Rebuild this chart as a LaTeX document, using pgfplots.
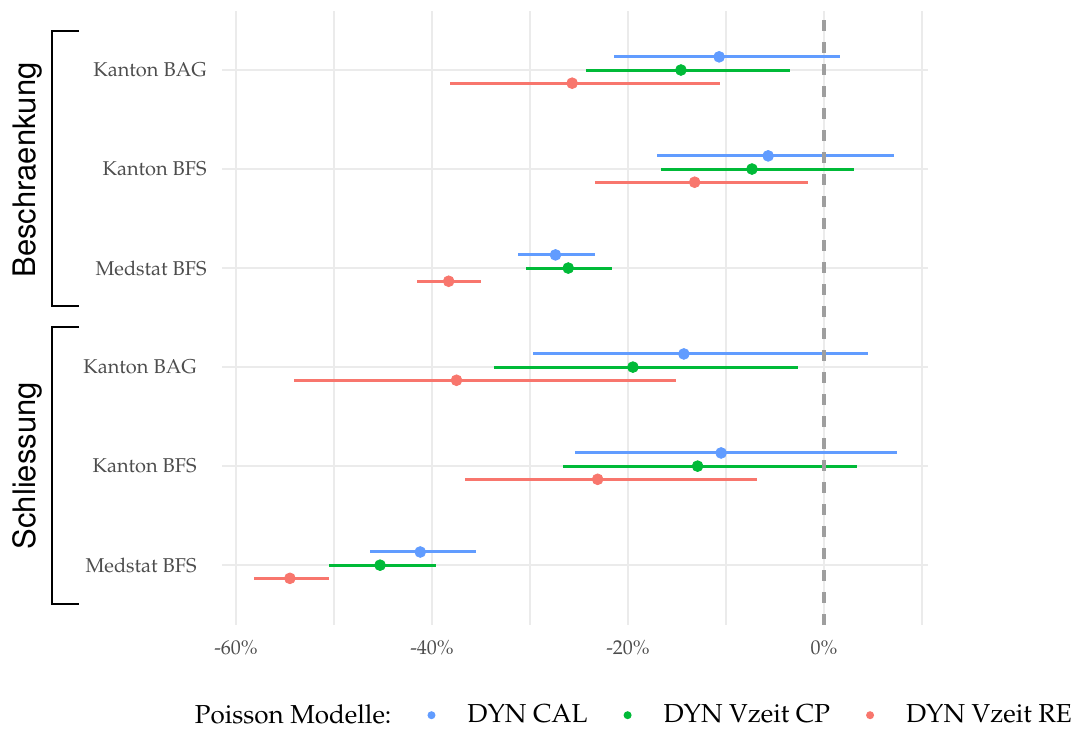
\documentclass[border=0pt]{standalone}
\usepackage[T1]{fontenc}
\usepackage{mathpazo}
\usepackage{helvet}
\usepackage{pgfplots}
\usepackage{pgfplotstable}
\pgfplotsset{compat=1.18}
\definecolor{cal}{HTML}{619CFF}
\definecolor{cp}{HTML}{00BA38}
\definecolor{re}{HTML}{F8766D}
\definecolor{gridgray}{HTML}{EBEBEB}
\definecolor{tickgray}{HTML}{4D4D4D}
\definecolor{dashgray}{HTML}{9E9E9E}

% y: row position (+ dodge), x: estimate, lo/hi: interval
\pgfplotstableread{
y x lo hi
5.133 -10.7 -21.4 1.6
4.133 -5.7 -17.0 7.1
3.133 -27.4 -31.2 -23.4
2.133 -14.3 -29.7 4.5
1.133 -10.5 -25.4 7.4
0.133 -41.2 -46.3 -35.5
}\tcal
\pgfplotstableread{
y x lo hi
5 -14.6 -24.3 -3.5
4 -7.35 -16.6 3.05
3 -26.1 -30.4 -21.6
2 -19.5 -33.7 -2.7
1 -12.9 -26.6 3.4
0 -45.3 -50.5 -39.6
}\tcp
\pgfplotstableread{
y x lo hi
4.867 -25.7 -38.2 -10.6
3.867 -13.2 -23.4 -1.6
2.867 -38.3 -41.5 -35.0
1.867 -37.5 -54.1 -15.1
0.867 -23.1 -36.6 -6.8
-0.133 -54.5 -58.2 -50.5
}\tre

\begin{document}
\begin{tikzpicture}
\begin{axis}[
  scale only axis,
  width=353pt, height=307pt,
  xmin=-61.43, xmax=10.61,
  ymin=-0.6, ymax=5.6,
  clip=false,
  axis line style={draw=none},
  major tick length=0pt, minor tick length=0pt,
  tick style={draw=none},
  xtick={-60,-40,-20,0},
  xticklabels={-60\%,-40\%,-20\%,0\%},
  minor xtick={-50,-30,-10,10},
  ytick={0,1,2},
  yticklabels={Medstat BFS,Kanton BFS,Kanton BAG},
  extra y ticks={3,4,5},
  extra y tick labels={Medstat BFS,Kanton BFS,Kanton BAG},
  extra y tick style={grid=major, yticklabel style={xshift=5pt}},
  grid=both,
  major grid style={color=gridgray, line width=1pt},
  minor grid style={color=gridgray, line width=0.8pt},
  xticklabel style={font=\fontsize{10}{12}\selectfont, text=tickgray, inner sep=0pt, yshift=-8pt},
  yticklabel style={font=\fontsize{10}{12}\selectfont, text=tickgray, inner sep=0pt, xshift=-12.5pt},
  legend columns=4,
  legend style={at={(axis cs:-64.6,-1.515)}, anchor=west, draw=none, inner sep=0pt, outer sep=0pt,
    font=\fontsize{13}{15}\selectfont,
    /tikz/every even column/.append style={column sep=16pt}},
]
\addlegendimage{empty legend}
\addlegendentry{Poisson Modelle:}
\addlegendimage{legend image code/.code={\fill[cal, draw=none] (0pt,0pt) circle (2pt); \path[draw=none] (-2pt,0pt) -- (16pt,0pt);}}
\addlegendentry{DYN CAL}
\addlegendimage{legend image code/.code={\fill[cp, draw=none] (0pt,0pt) circle (2pt); \path[draw=none] (-2pt,0pt) -- (16pt,0pt);}}
\addlegendentry{DYN Vzeit CP}
\addlegendimage{legend image code/.code={\fill[re, draw=none] (0pt,0pt) circle (2pt); \path[draw=none] (-2pt,0pt) -- (16pt,0pt);}}
\addlegendentry{DYN Vzeit RE}

\addplot[forget plot, only marks, mark=*, mark size=2.7pt, color=cal,
  error bars/.cd, x dir=both, x explicit, error mark=none,
  error bar style={line width=1.5pt, line cap=butt, color=cal}]
  table[x=x, y=y, x error plus expr=\thisrow{hi}-\thisrow{x}, x error minus expr=\thisrow{x}-\thisrow{lo}] {\tcal};
\addplot[forget plot, only marks, mark=*, mark size=2.7pt, color=cp,
  error bars/.cd, x dir=both, x explicit, error mark=none,
  error bar style={line width=1.5pt, line cap=butt, color=cp}]
  table[x=x, y=y, x error plus expr=\thisrow{hi}-\thisrow{x}, x error minus expr=\thisrow{x}-\thisrow{lo}] {\tcp};
\addplot[forget plot, only marks, mark=*, mark size=2.7pt, color=re,
  error bars/.cd, x dir=both, x explicit, error mark=none,
  error bar style={line width=1.5pt, line cap=butt, color=re}]
  table[x=x, y=y, x error plus expr=\thisrow{hi}-\thisrow{x}, x error minus expr=\thisrow{x}-\thisrow{lo}] {\tre};

\addplot[forget plot, dashgray, line width=1.6pt, dash pattern=on 5.5pt off 5.5pt] coordinates {(0,-0.6) (0,5.6)};

% group brackets
\draw[black, line width=0.85pt] (axis cs:-76.0,5.397) -- (axis cs:-78.8,5.397) -- (axis cs:-78.8,2.616) -- (axis cs:-76.0,2.616);
\draw[black, line width=0.85pt] (axis cs:-76.0,2.407) -- (axis cs:-78.8,2.407) -- (axis cs:-78.8,-0.394) -- (axis cs:-76.0,-0.394);
\node[rotate=90, anchor=base, inner sep=0pt, font=\sffamily\fontsize{15.5}{18}\selectfont] at (axis cs:-80.5,3.99) {Beschraenkung};
\node[rotate=90, anchor=base, inner sep=0pt, font=\sffamily\fontsize{15.5}{18}\selectfont] at (axis cs:-80.5,1.005) {Schliessung};
\end{axis}
\pgfresetboundingbox
\path[use as bounding box] ([xshift=-111pt,yshift=-55.3pt]current axis.south west) rectangle ([xshift=77.5pt,yshift=5.3pt]current axis.north east);
\end{tikzpicture}
\end{document}
